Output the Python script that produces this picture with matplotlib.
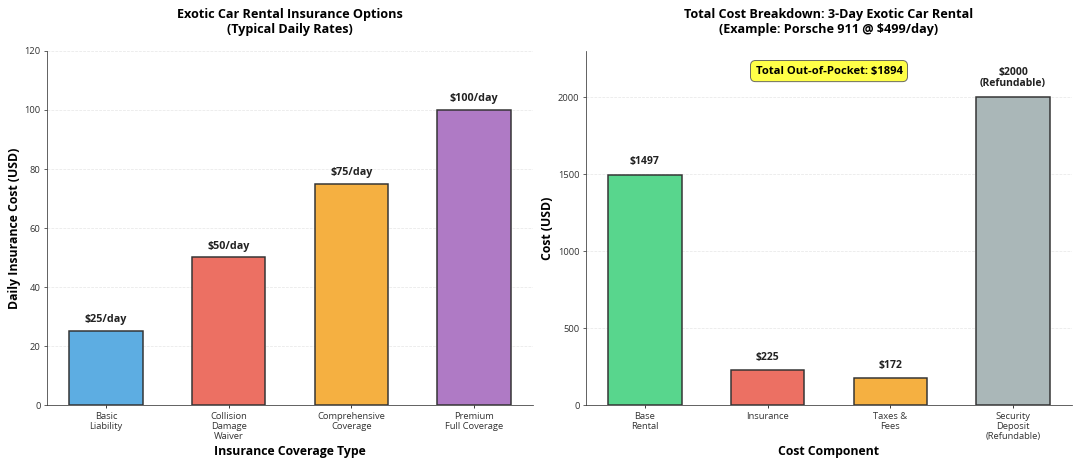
import matplotlib.pyplot as plt

plt.rcParams['font.family'] = ['Open Sans', 'Noto Sans', 'DejaVu Sans']

# left panel data
coverage_types = ['Basic\nLiability', 'Collision\nDamage\nWaiver', 'Comprehensive\nCoverage', 'Premium\nFull Coverage']
daily_rates = [25, 50, 75, 100]
coverage_colors = ['#5DADE2', '#EC7063', '#F5B041', '#AF7AC5']

# right panel data
cost_components = ['Base\nRental', 'Insurance', 'Taxes &\nFees', 'Security\nDeposit\n(Refundable)']
cost_values = [1497, 225, 172, 2000]
cost_colors = ['#58D68D', '#EC7063', '#F5B041', '#AAB7B8']
total_out_of_pocket = 1894

fig, (ax1, ax2) = plt.subplots(1, 2, figsize=(16, 6.905), dpi=67.5)
fig.subplots_adjust(left=0.0435, right=0.9926, bottom=0.131, top=0.8906, wspace=0.109)

# --- left: insurance options
x1 = range(len(coverage_types))
bars1 = ax1.bar(x1, daily_rates, width=0.6, color=coverage_colors,
                edgecolor='#333333', linewidth=1.6)
for b, v in zip(bars1, daily_rates):
    ax1.text(b.get_x() + b.get_width() / 2, v + 2, f'${v}/day',
             ha='center', va='bottom', fontsize=11.5, fontweight='bold', color='#222222')
ax1.set_xticks(list(x1))
ax1.set_xticklabels(coverage_types, fontsize=10, color='#333333')
ax1.set_ylim(0, 120)
ax1.set_ylabel('Daily Insurance Cost (USD)', fontsize=13, fontweight='bold')
ax1.set_xlabel('Insurance Coverage Type', fontsize=13, fontweight='bold')
ax1.set_title('Exotic Car Rental Insurance Options\n(Typical Daily Rates)',
              fontsize=13.5, fontweight='bold', pad=19)

# --- right: cost breakdown
x2 = range(len(cost_components))
bars2 = ax2.bar(x2, cost_values, width=0.6, color=cost_colors,
                edgecolor='#333333', linewidth=1.6)
for i, (b, v) in enumerate(zip(bars2, cost_values)):
    lbl = f'${v}\n(Refundable)' if i == len(cost_values) - 1 else f'${v}'
    ax2.text(b.get_x() + b.get_width() / 2, v + 50, lbl,
             ha='center', va='bottom', fontsize=11, fontweight='bold',
             color='#222222', linespacing=1.1)
ax2.set_xticks(list(x2))
ax2.set_xticklabels(cost_components, fontsize=10, color='#333333')
ax2.set_ylim(0, 2300)
ax2.set_ylabel('Cost (USD)', fontsize=13, fontweight='bold')
ax2.set_xlabel('Cost Component', fontsize=13, fontweight='bold')
ax2.set_title('Total Cost Breakdown: 3-Day Exotic Car Rental\n(Example: Porsche 911 @ $499/day)',
              fontsize=13.5, fontweight='bold', pad=19)
ax2.text(0.5, 0.943, f'Total Out-of-Pocket: ${total_out_of_pocket}', transform=ax2.transAxes,
         ha='center', va='center', fontsize=12, fontweight='bold',
         bbox=dict(boxstyle='round,pad=0.45', facecolor='#FFFF33', edgecolor='#555555', alpha=0.9))

for ax in (ax1, ax2):
    ax.spines['top'].set_visible(False)
    ax.spines['right'].set_visible(False)
    ax.spines['left'].set_color('#333333')
    ax.spines['bottom'].set_color('#333333')
    ax.tick_params(axis='y', labelsize=10, colors='#333333')
    ax.yaxis.grid(True, linestyle='--', alpha=0.3)
    ax.set_axisbelow(True)

plt.savefig('out.png', dpi=67.5)
